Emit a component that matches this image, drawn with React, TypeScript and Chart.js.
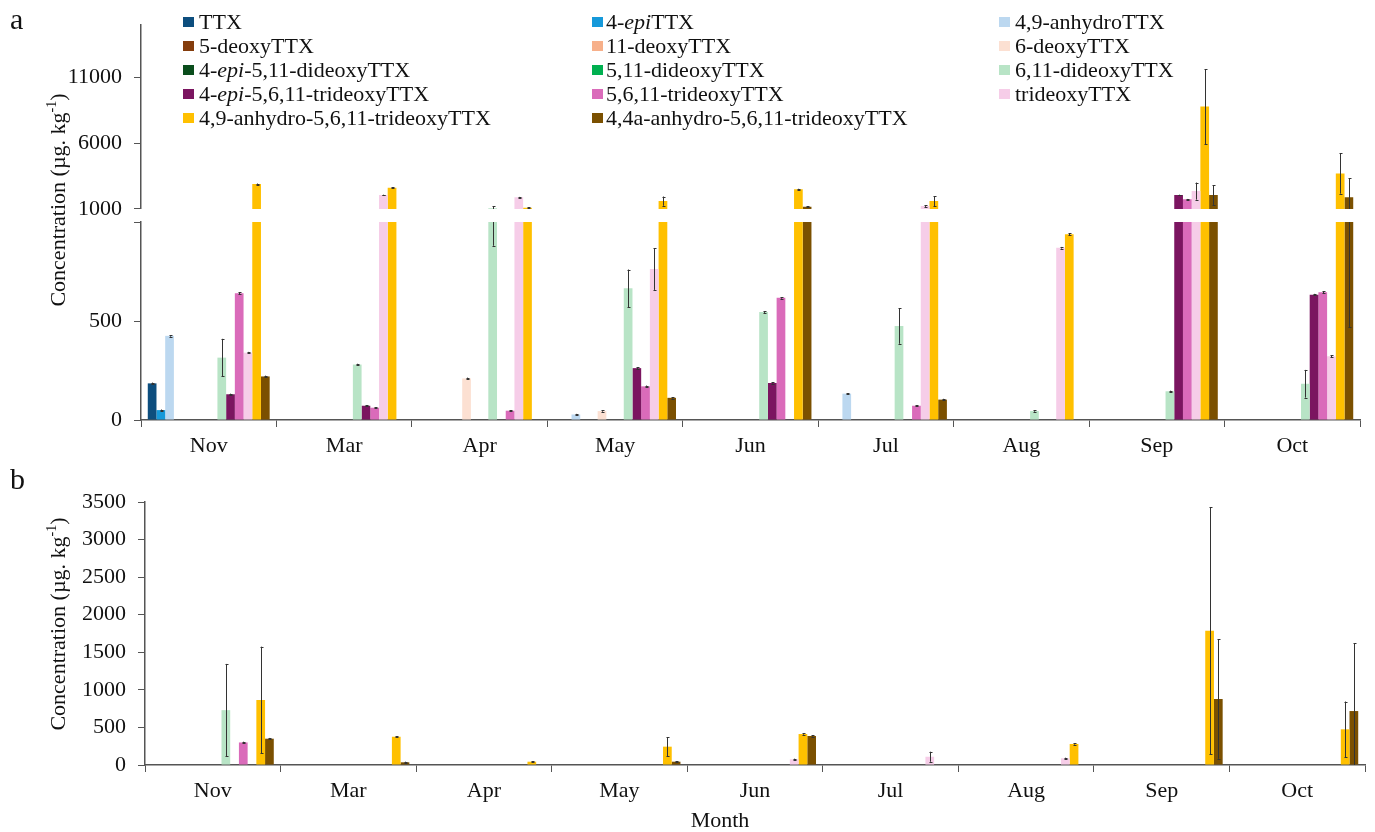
import React, { useEffect, useRef } from 'react';
import { Chart, registerables } from 'chart.js';

Chart.register(...registerables);

// ---------- categories & series ----------
const months = ['Nov', 'Mar', 'Apr', 'May', 'Jun', 'Jul', 'Aug', 'Sep', 'Oct'];

const seriesNames = [
  'TTX', '4-epiTTX', '4,9-anhydroTTX',
  '5-deoxyTTX', '11-deoxyTTX', '6-deoxyTTX',
  '4-epi-5,11-dideoxyTTX', '5,11-dideoxyTTX', '6,11-dideoxyTTX',
  '4-epi-5,6,11-trideoxyTTX', '5,6,11-trideoxyTTX', 'trideoxyTTX',
  '4,9-anhydro-5,6,11-trideoxyTTX', '4,4a-anhydro-5,6,11-trideoxyTTX',
];

const seriesColors = [
  '#0D4E7E', '#1599DA', '#BCD8F0',
  '#843C0C', '#F7B08A', '#FCE0D2',
  '#0A4D1C', '#00B050', '#B8E4C6',
  '#7B1560', '#DA6BBA', '#F6CDE8',
  '#FFC000', '#7B5000',
];

// ---------- panel a values (µg/kg) ----------
const aTTX = [185, 0, 0, 0, 0, 0, 0, 0, 0];
const aEpiTTX = [50, 0, 0, 0, 0, 0, 0, 0, 0];
const aAnhydroTTX = [425, 0, 0, 28, 0, 133, 0, 0, 0];
const a5Deoxy = [0, 0, 0, 0, 0, 0, 0, 0, 0];
const a11Deoxy = [0, 0, 0, 0, 0, 0, 0, 0, 0];
const a6Deoxy = [0, 0, 210, 45, 0, 0, 0, 0, 0];
const aEpi511Dideoxy = [0, 0, 0, 0, 0, 0, 0, 0, 0];
const a511Dideoxy = [0, 0, 0, 0, 0, 0, 0, 0, 0];
const a611Dideoxy = [315, 280, 1050, 665, 545, 475, 45, 145, 183];
const aEpi5611Trideoxy = [130, 72, 0, 262, 187, 0, 0, 2060, 633];
const a5611Trideoxy = [640, 62, 47, 170, 617, 72, 0, 1735, 645];
const aTrideoxy = [340, 2060, 1890, 762, 0, 1230, 870, 2364, 322];
const a49Anhydro5611 = [2900, 2610, 1100, 1600, 2500, 1600, 938, 8800, 3700];
const a44aAnhydro5611 = [220, 0, 0, 112, 1170, 103, 0, 2060, 1900];

// ---------- panel a standard deviations ----------
const aErrTTX = [4, 0, 0, 0, 0, 0, 0, 0, 0];
const aErrEpiTTX = [3, 0, 0, 0, 0, 0, 0, 0, 0];
const aErrAnhydroTTX = [4, 0, 0, 3, 0, 3, 0, 0, 0];
const aErr6Deoxy = [0, 0, 4, 3, 0, 0, 0, 0, 0];
const aErr611Dideoxy = [95, 4, 170, 95, 4, 90, 3, 3, 70];
const aErrEpi5611 = [3, 3, 0, 4, 3, 0, 0, 30, 4];
const aErr5611 = [4, 3, 3, 4, 4, 3, 0, 30, 4];
const aErrTrideoxy = [4, 30, 30, 105, 0, 70, 4, 650, 4];
const aErr49Anhydro = [40, 40, 40, 350, 40, 370, 4, 2850, 1530];
const aErr44aAnhydro = [4, 0, 0, 4, 30, 4, 0, 750, 1430];
const noErr = [0, 0, 0, 0, 0, 0, 0, 0, 0];

// ---------- panel b values (µg/kg) ----------
const bZero = [0, 0, 0, 0, 0, 0, 0, 0, 0];
const b611Dideoxy = [730, 0, 0, 0, 0, 0, 0, 0, 0];
const b5611Trideoxy = [300, 0, 0, 0, 0, 0, 0, 0, 0];
const bTrideoxy = [0, 0, 0, 0, 76, 110, 89, 0, 0];
const b49Anhydro5611 = [865, 376, 44, 244, 412, 0, 280, 1786, 475];
const b44aAnhydro5611 = [350, 36, 0, 44, 386, 0, 0, 878, 718];

// ---------- panel b standard deviations ----------
const bErr611Dideoxy = [615, 0, 0, 0, 0, 0, 0, 0, 0];
const bErr5611 = [10, 0, 0, 0, 0, 0, 0, 0, 0];
const bErrTrideoxy = [0, 0, 0, 0, 8, 67, 8, 0, 0];
const bErr49Anhydro = [710, 8, 8, 125, 8, 0, 8, 1645, 370];
const bErr44aAnhydro = [10, 8, 0, 8, 8, 0, 0, 795, 900];

// ---------- tick labels ----------
const aUpperTicks = [1000, 6000, 11000];
const aLowerTicks = [0, 500, 1000];
const aLowerHiddenLabels = [1000];
const bTicks = [0, 500, 1000, 1500, 2000, 2500, 3000, 3500];

const aValues = [
  aTTX, aEpiTTX, aAnhydroTTX, a5Deoxy, a11Deoxy, a6Deoxy, aEpi511Dideoxy,
  a511Dideoxy, a611Dideoxy, aEpi5611Trideoxy, a5611Trideoxy, aTrideoxy,
  a49Anhydro5611, a44aAnhydro5611,
];
const aErrors = [
  aErrTTX, aErrEpiTTX, aErrAnhydroTTX, noErr, noErr, aErr6Deoxy, noErr, noErr,
  aErr611Dideoxy, aErrEpi5611, aErr5611, aErrTrideoxy, aErr49Anhydro, aErr44aAnhydro,
];
const bValues = [
  bZero, bZero, bZero, bZero, bZero, bZero, bZero, bZero,
  b611Dideoxy, bZero, b5611Trideoxy, bTrideoxy, b49Anhydro5611, b44aAnhydro5611,
];
const bErrors = [
  noErr, noErr, noErr, noErr, noErr, noErr, noErr, noErr,
  bErr611Dideoxy, noErr, bErr5611, bErrTrideoxy, bErr49Anhydro, bErr44aAnhydro,
];

const FONT = "'Liberation Serif', 'Times New Roman', serif";
const AXIS = '#555555';
const W = 1375;
const H = 832;
const X_AXIS_H = 40;

const errorBarPlugin = {
  id: 'errorBars',
  afterDatasetsDraw(chart: any) {
    const { ctx, chartArea } = chart;
    ctx.save();
    ctx.beginPath();
    ctx.rect(chartArea.left, chartArea.top, chartArea.right - chartArea.left, chartArea.bottom - chartArea.top);
    ctx.clip();
    ctx.strokeStyle = '#333333';
    ctx.lineWidth = 1;
    chart.data.datasets.forEach((ds: any, i: number) => {
      const errs: number[] = ds.errors;
      if (!errs) return;
      const meta = chart.getDatasetMeta(i);
      const yScale = chart.scales[meta.yAxisID];
      meta.data.forEach((bar: any, j: number) => {
        const v = ds.data[j];
        const e = errs[j];
        if (!v || !e) return;
        const x = Math.round(bar.x) + 0.5;
        const yTop = yScale.getPixelForValue(v + e);
        const yBot = yScale.getPixelForValue(v - e);
        ctx.beginPath();
        ctx.moveTo(x, yTop);
        ctx.lineTo(x, yBot);
        ctx.moveTo(x - 1, Math.round(yTop) + 0.5);
        ctx.lineTo(x + 2, Math.round(yTop) + 0.5);
        ctx.moveTo(x - 1, Math.round(yBot) + 0.5);
        ctx.lineTo(x + 2, Math.round(yBot) + 0.5);
        ctx.stroke();
      });
    });
    ctx.restore();
  },
};

type PanelCfg = {
  values: number[][];
  errors: number[][];
  yMin: number;
  yMax: number;
  yTicks: number[];
  hiddenLabels: number[];
  showX: boolean;
  yAxisWidth: number;
  padding: { left: number; right: number; top: number; bottom: number };
};

function buildChart(canvas: HTMLCanvasElement, cfg: PanelCfg) {
  const tickFont = { family: FONT, size: 22 };
  return new Chart(canvas, {
    type: 'bar',
    data: {
      labels: months,
      datasets: cfg.values.map((vals, i) => ({
        label: seriesNames[i],
        data: vals,
        errors: cfg.errors[i],
        backgroundColor: seriesColors[i],
        borderWidth: 0,
        clip: 0,
        categoryPercentage: 0.9,
        barPercentage: 1.0,
      })) as any,
    },
    options: {
      responsive: false,
      maintainAspectRatio: false,
      animation: false,
      layout: { padding: cfg.padding },
      plugins: { legend: { display: false }, tooltip: { enabled: false }, title: { display: false } },
      scales: {
        x: {
          display: cfg.showX,
          offset: true,
          grid: { offset: true, drawOnChartArea: false, tickLength: 7, color: AXIS, lineWidth: 1 },
          border: { display: true, color: AXIS, width: 1.5 },
          ticks: { font: tickFont, color: '#111111', padding: 6, maxRotation: 0, autoSkip: false },
          afterFit: (axis: any) => { axis.height = cfg.showX ? X_AXIS_H : 0; },
        },
        y: {
          min: cfg.yMin,
          max: cfg.yMax,
          afterBuildTicks: (axis: any) => { axis.ticks = cfg.yTicks.map((v) => ({ value: v })); },
          afterFit: (axis: any) => { axis.width = cfg.yAxisWidth; },
          grid: { drawOnChartArea: false, tickLength: 7, color: AXIS, lineWidth: 1 },
          border: { display: true, color: AXIS, width: 1.5 },
          ticks: {
            font: tickFont,
            color: '#111111',
            padding: 12,
            autoSkip: false,
            callback: (v: any) => (cfg.hiddenLabels.includes(Number(v)) ? '' : String(v)),
          },
        },
      },
    },
    plugins: [errorBarPlugin],
  } as any);
}

function ChartCanvas({ cfg }: { cfg: PanelCfg }) {
  const ref = useRef<HTMLCanvasElement>(null);
  useEffect(() => {
    if (!ref.current) return;
    const chart = buildChart(ref.current, cfg);
    return () => chart.destroy();
  }, []);
  return (
    <canvas
      ref={ref}
      width={W}
      height={H}
      style={{ position: 'absolute', left: 0, top: 0, width: W, height: H }}
    />
  );
}

function LegendName({ name }: { name: string }) {
  const parts = name.split(/(epi)/);
  return (
    <>
      {parts.map((p, i) => (p === 'epi' ? <i key={i}>epi</i> : <span key={i}>{p}</span>))}
    </>
  );
}

const upperA: PanelCfg = {
  values: aValues, errors: aErrors, yMin: 1000, yMax: 15000, yTicks: aUpperTicks,
  hiddenLabels: [], showX: false, yAxisWidth: 141,
  padding: { left: 0, right: 15, top: 24, bottom: H - 209 },
};
const lowerA: PanelCfg = {
  values: aValues, errors: aErrors, yMin: 0, yMax: 1000, yTicks: aLowerTicks,
  hiddenLabels: aLowerHiddenLabels, showX: true, yAxisWidth: 141,
  padding: { left: 0, right: 15, top: 222, bottom: H - 420 - X_AXIS_H },
};
const panelB: PanelCfg = {
  values: bValues, errors: bErrors, yMin: 0, yMax: 3500, yTicks: bTicks,
  hiddenLabels: [], showX: true, yAxisWidth: 145,
  padding: { left: 0, right: 10, top: 502, bottom: H - 765 - X_AXIS_H },
};

const legendSwatchX = [183, 592, 999];
const legendTextX = [199, 606, 1015];

export default function App() {
  const textBase: React.CSSProperties = {
    position: 'absolute',
    fontFamily: FONT,
    color: '#111111',
    whiteSpace: 'nowrap',
    lineHeight: 1,
  };
  return (
    <div style={{ position: 'fixed', left: 0, top: 0, width: W, height: H, background: '#ffffff', overflow: 'hidden' }}>
      <ChartCanvas cfg={upperA} />
      <ChartCanvas cfg={lowerA} />
      <ChartCanvas cfg={panelB} />

      {seriesNames.map((name, i) => {
        const col = i % 3;
        const row = Math.floor(i / 3);
        const cy = 22 + row * 24;
        return (
          <React.Fragment key={name}>
            <div
              style={{
                position: 'absolute', left: legendSwatchX[col], top: cy - 5, width: 11, height: 10,
                background: seriesColors[i],
              }}
            />
            <div style={{ ...textBase, left: legendTextX[col], top: cy - 11, fontSize: 22 }}>
              <LegendName name={name} />
            </div>
          </React.Fragment>
        );
      })}

      <div style={{ ...textBase, left: 10, top: 4, fontSize: 30 }}>a</div>
      <div style={{ ...textBase, left: 10, top: 464, fontSize: 30 }}>b</div>

      <div
        style={{
          ...textBase, left: 57, top: 200, fontSize: 22,
          transform: 'translate(-50%, -50%) rotate(-90deg)',
        }}
      >
        Concentration (µg. kg<sup style={{ fontSize: 14 }}>-1</sup>)
      </div>
      <div
        style={{
          ...textBase, left: 57, top: 624, fontSize: 22,
          transform: 'translate(-50%, -50%) rotate(-90deg)',
        }}
      >
        Concentration (µg. kg<sup style={{ fontSize: 14 }}>-1</sup>)
      </div>
      <div style={{ ...textBase, left: 720, top: 820, fontSize: 22, transform: 'translate(-50%, -50%)' }}>Month</div>
    </div>
  );
}
